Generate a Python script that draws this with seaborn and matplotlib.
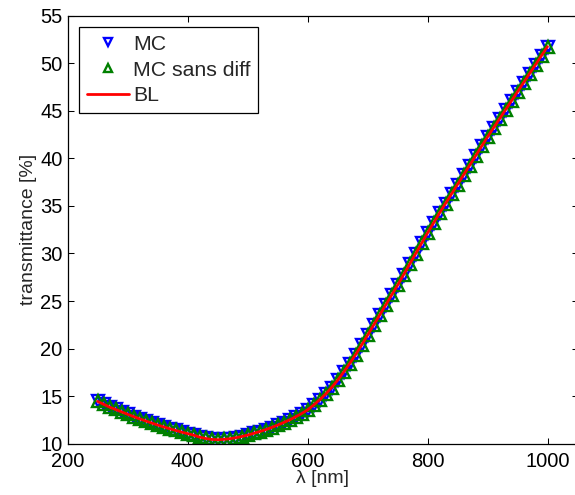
import numpy as np
import pandas as pd
import matplotlib
matplotlib.use("Agg")
import matplotlib.pyplot as plt
import seaborn as sns

wavelength = list(range(250, 1001, 10))
bl = [14.45, 14.15, 13.85, 13.6, 13.35, 13.1, 12.85, 12.62, 12.4, 12.18,
      11.97, 11.77, 11.58, 11.4, 11.22, 11.06, 10.9, 10.7, 10.55, 10.45,
      10.42, 10.45, 10.52, 10.62, 10.75, 10.9, 11.08, 11.27, 11.47, 11.7,
      11.95, 12.22, 12.5, 12.82, 13.16, 13.55, 14.05, 14.6, 15.2, 15.9,
      16.65, 17.5, 18.4, 19.35, 20.35, 21.4, 22.45, 23.5, 24.55, 25.6,
      26.65, 27.75, 28.85, 29.95, 31.05, 32.15, 33.2, 34.25, 35.25, 36.25,
      37.25, 38.25, 39.25, 40.25, 41.25, 42.25, 43.2, 44.15, 45.1, 46.05,
      47.0, 47.95, 48.9, 49.85, 50.8, 51.75]
mc = list(bl)
mc_sans_diff = list(bl)

xticks = [200, 400, 600, 800, 1000]
yticks = [10, 15, 20, 25, 30, 35, 40, 45, 50, 55]

sns.set_style("ticks")
plt.rcParams["font.family"] = ["Liberation Sans", "DejaVu Sans"]

fig = plt.figure(figsize=(5.75, 4.95), dpi=100)
W, H = 575.0, 495.0
ax = fig.add_axes([67.5 / W, 51.3 / H, 510.0 / W, 428.0 / H])

df = pd.DataFrame({"wl": wavelength, "mc": mc, "mcs": mc_sans_diff, "bl": bl})

sns.lineplot(data=df, x="wl", y="mc", ax=ax, linestyle="none", marker="v",
             markersize=8, markerfacecolor="none", markeredgecolor="#0000ff",
             markeredgewidth=1.7, color="#0000ff", label="MC")
sns.lineplot(data=df, x="wl", y="mcs", ax=ax, linestyle="none", marker="^",
             markersize=8, markerfacecolor="none", markeredgecolor="#008000",
             markeredgewidth=1.7, color="#008000", label="MC sans diff")
sns.lineplot(data=df, x="wl", y="bl", ax=ax, color="#ff0000", linewidth=2.0,
             label="BL")

ax.set_xlim(200, 1050)
ax.set_ylim(10, 55)
ax.set_xticks(xticks)
ax.set_yticks(yticks)
ax.set_xticklabels([str(t) for t in xticks])
ax.set_yticklabels([str(t) for t in yticks])
ax.tick_params(direction="in", length=4, width=0.75, top=True, right=True,
               labelsize=14.5, colors="black")
ax.tick_params(axis="x", pad=6)
for s in ax.spines.values():
    s.set_linewidth(0.9)
    s.set_color("black")
    s.set_visible(True)

ax.set_xlabel("λ [nm]", fontsize=14, labelpad=-1)
ax.set_ylabel("transmittance [%]", fontsize=14, labelpad=2)

leg = ax.legend(loc="upper left", fontsize=15.3, frameon=True, fancybox=False,
                edgecolor="black", framealpha=1, borderpad=0.35,
                labelspacing=0.32, handlelength=2.0, handletextpad=0.2,
                borderaxespad=0.55, markerscale=0.8)
leg.get_frame().set_linewidth(0.9)

fig.savefig("out.png", dpi=100)
